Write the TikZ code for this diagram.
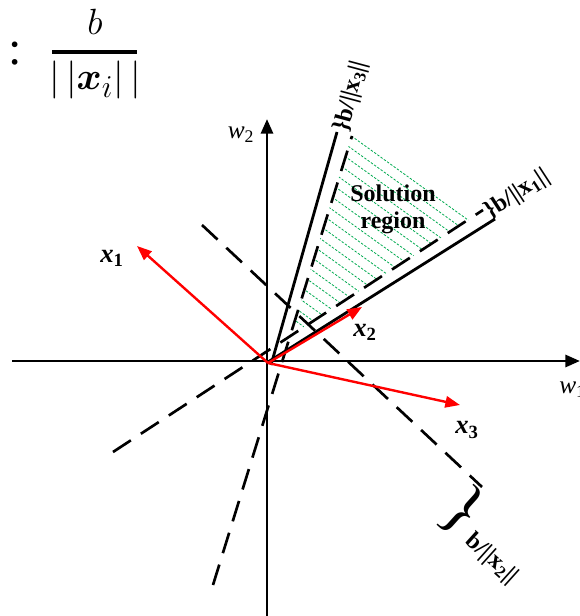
\documentclass[tikz,border=0pt]{standalone}
\usepackage{amsmath,bm}
\usepackage{fontspec}
\setmainfont{Liberation Serif}
\usetikzlibrary{arrows.meta}
\definecolor{hatchgreen}{RGB}{0,170,80}
\begin{document}
\begin{tikzpicture}[x=0.75pt,y=-0.75pt,
  axis/.style={line width=2.2pt,-{Triangle[length=11pt,width=9pt]}},
  vec/.style={red,line width=1.8pt,-{Triangle[length=11pt,width=8.5pt]}},
  bound/.style={line width=2.1pt},
  dline/.style={line width=2pt,dash pattern=on 16pt off 9pt},
  hatch/.style={draw=hatchgreen,line width=0.6pt,dash pattern=on 1.8pt off 1.2pt},
  veclbl/.style={inner sep=0pt,font=\fontsize{20}{22}\selectfont},
  axlbl/.style={inner sep=0pt,font=\fontsize{19}{22}\selectfont},
  brlbl/.style={inner sep=0pt,anchor=west,font=\fontsize{18}{18}\selectfont\bfseries}
]
\useasboundingbox (0,0) rectangle (580,616);

% named points
\coordinate (O) at (268,363);
\coordinate (haxL) at (12,361);
\coordinate (haxR) at (580,361);
\coordinate (vaxB) at (267,616);
\coordinate (vaxT) at (267,119);
\coordinate (x1tip) at (137,246);
\coordinate (x2tip) at (362,307);
\coordinate (x3tip) at (460,405);
\coordinate (Aa) at (202,225);
\coordinate (Ab) at (482,487);
\coordinate (Ba) at (113,452);
\coordinate (Bb) at (483,210);
\coordinate (Ca) at (271,365);
\coordinate (Cb) at (337,132);
\coordinate (Da) at (213,585);
\coordinate (Db) at (352,136);
\coordinate (Ea) at (268,362);
\coordinate (Eb) at (495,219);

% hatching of the solution region
\begin{scope}
  \clip (352,135) -- (470,219) -- (290,336) -- cycle;
  \foreach \c in {-117,-104.5,...,110}
    \draw[hatch] (280,{0.72*280+\c}) -- (480,{0.72*480+\c});
\end{scope}

% axes
\draw[axis] (haxL) -- (haxR);
\draw[axis] (vaxB) -- (vaxT);

% boundary lines
\draw[bound] (Ca) -- (Cb);
\draw[bound] (Ea) -- (Eb);
\draw[dline] (Aa) -- (Ab);
\draw[dline] (Ba) -- (Bb);
\draw[dline] (Da) -- (Db);

% vectors
\draw[vec] (O) -- (x1tip);
\draw[vec] (O) -- (x2tip);
\draw[vec] (O) -- (x3tip);

% labels
\node[veclbl] (x1) at (112,258) {\textbf{\textit{x}}\textsubscript{\textbf{1}}};
\node[veclbl] (x2) at (365,332) {\textbf{\textit{x}}\textsubscript{\textbf{2}}};
\node[veclbl] (x3) at (467,430) {\textbf{\textit{x}}\textsubscript{\textbf{3}}};
\node[axlbl] (w2) at (241,135) {\textit{w}\textsubscript{2}};
\node[axlbl,anchor=west] (w1) at (559,390) {\textit{w}\textsubscript{1}};

\node[align=center,inner sep=0pt,font=\fontsize{18}{20}\selectfont\bfseries] (sol) at (393,209) {Solution\\region};

\node[brlbl,rotate=75] (b3) at (342,131) {\}b/||x\textsubscript{3}||};
\node[brlbl,rotate=33] (b1) at (487,214) {\}b/||x\textsubscript{1}||};
\node[inner sep=0pt,rotate=-42,font=\fontsize{50}{50}\selectfont] (br2) at (463,511) {\}};
\node[brlbl,rotate=-42] (b2) at (468,538) {b/||x\textsubscript{2}||};

% formula
\node[anchor=base,inner sep=0pt,font=\fontsize{36}{36}\selectfont] (colon) at (15,65) {:};
\node[anchor=base,inner sep=0pt] (num) at (95,35) {\scalebox{1.1}{\fontsize{24.88}{30}\selectfont$b$}};
\coordinate (barL) at (52,52);
\coordinate (barR) at (137,52);
\draw[line width=2.6pt] (barL) -- (barR);
\node[anchor=base,inner sep=0pt] (den) at (95,90) {\scalebox{1.15}{\fontsize{24.88}{30}\selectfont$|\,|\bm{x}_i|\,|$}};
\end{tikzpicture}
\end{document}
